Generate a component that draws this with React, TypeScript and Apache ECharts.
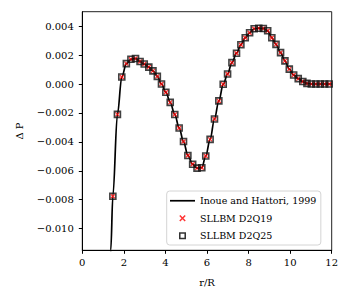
import React, { useEffect, useRef } from "react";
import * as echarts from "echarts";

// Reference curve (Inoue and Hattori, 1999)
const refR = [1.30, 1.37, 1.47, 1.69, 1.90, 2.12, 2.34, 2.56, 2.78, 2.98, 3.20, 3.40, 3.61, 3.81, 4.02, 4.23, 4.45, 4.66, 4.87, 5.08, 5.31, 5.52, 5.75, 5.94, 6.15, 6.36, 6.57, 6.78, 6.99, 7.20, 7.42, 7.63, 7.84, 8.05, 8.27, 8.49, 8.71, 8.92, 9.12, 9.32, 9.54, 9.75, 9.96, 10.17, 10.39, 10.61, 10.81, 11.02, 11.5, 12.0];
const refP = [-0.0141, -0.0115, -0.00776, -0.00210, 0.00048, 0.00141, 0.00171, 0.00176, 0.00156, 0.00138, 0.00117, 0.00091, 0.00053, 0.0, -0.00057, -0.00127, -0.00211, -0.00304, -0.00398, -0.00494, -0.00555, -0.00582, -0.00579, -0.00498, -0.00383, -0.00242, -0.00117, -0.00002, 0.00069, 0.00148, 0.00213, 0.00271, 0.0032, 0.00354, 0.00382, 0.00386, 0.00384, 0.00368, 0.0032, 0.00274, 0.00217, 0.0016, 0.00103, 0.00062, 0.00037, 0.00017, 0.00004, 0.0, 0.0, 0.0];

// SLLBM samples
const lbmR = [1.47, 1.69, 1.90, 2.12, 2.34, 2.56, 2.78, 2.98, 3.20, 3.40, 3.61, 3.81, 4.02, 4.23, 4.45, 4.66, 4.87, 5.08, 5.31, 5.52, 5.75, 5.94, 6.15, 6.36, 6.57, 6.78, 6.99, 7.20, 7.42, 7.63, 7.84, 8.05, 8.27, 8.49, 8.71, 8.92, 9.12, 9.32, 9.54, 9.75, 9.96, 10.17, 10.39, 10.61, 10.81, 11.02, 11.24, 11.45, 11.66, 11.88];
const d2q19P = [-0.00776, -0.00210, 0.00048, 0.00141, 0.00171, 0.00176, 0.00156, 0.00138, 0.00117, 0.00091, 0.00053, 0.0, -0.00057, -0.00127, -0.00211, -0.00304, -0.00398, -0.00494, -0.00555, -0.00582, -0.00579, -0.00498, -0.00383, -0.00242, -0.00117, -0.00002, 0.00069, 0.00148, 0.00213, 0.00271, 0.0032, 0.00354, 0.00382, 0.00386, 0.00384, 0.00368, 0.0032, 0.00274, 0.00217, 0.0016, 0.00103, 0.00062, 0.00037, 0.00017, 0.00004, 0.0, 0.0, 0.0, 0.0, 0.0];
const d2q25P = [-0.00776, -0.00210, 0.00048, 0.00141, 0.00171, 0.00176, 0.00156, 0.00138, 0.00117, 0.00091, 0.00053, 0.0, -0.00057, -0.00127, -0.00211, -0.00304, -0.00398, -0.00494, -0.00555, -0.00582, -0.00579, -0.00498, -0.00383, -0.00242, -0.00117, -0.00002, 0.00069, 0.00148, 0.00213, 0.00271, 0.0032, 0.00354, 0.00382, 0.00386, 0.00384, 0.00368, 0.0032, 0.00274, 0.00217, 0.0016, 0.00103, 0.00062, 0.00037, 0.00017, 0.00004, 0.0, 0.0, 0.0, 0.0, 0.0];

const yTicks = [-0.010, -0.008, -0.006, -0.004, -0.002, 0.0, 0.002, 0.004];
const seriesNames = ["Inoue and Hattori, 1999", "SLLBM D2Q19", "SLLBM D2Q25"];

const FONT = "DejaVu Serif";
const CROSS = "path://M0,0L10,10M10,0L0,10";

export default function App() {
  const ref = useRef<HTMLDivElement>(null);
  useEffect(() => {
    if (!ref.current) return;
    const chart = echarts.init(ref.current, undefined, { renderer: "svg" });
    const zip = (xs: number[], ys: number[]) => xs.map((x, i) => [x, ys[i]]);
    chart.setOption({
      animation: false,
      grid: {
        left: 82.3,
        right: 18.3,
        top: 11.7,
        bottom: 49.7,
        show: true,
        borderColor: "#222",
        borderWidth: 1,
      },
      xAxis: {
        type: "value",
        min: 0,
        max: 12,
        interval: 2,
        name: "r/R",
        nameLocation: "middle",
        nameGap: 27,
        nameTextStyle: { fontFamily: FONT, fontSize: 10, color: "#000" },
        axisLine: { show: true, onZero: false, lineStyle: { color: "#000", width: 1 } },
        axisTick: { show: true, inside: false, length: 3.5, lineStyle: { color: "#000" } },
        axisLabel: { fontFamily: FONT, fontSize: 10, color: "#000", margin: 7.5 },
        splitLine: { show: false },
      },
      yAxis: {
        type: "value",
        min: -0.0115,
        max: 0.005,
        name: "Δ P",
        nameLocation: "middle",
        nameRotate: 90,
        nameGap: 58,
        nameTextStyle: { fontFamily: FONT, fontSize: 10, color: "#000" },
        axisLine: { show: true, onZero: false, lineStyle: { color: "#000", width: 1 } },
        axisTick: { show: true, length: 3.5, customValues: yTicks, lineStyle: { color: "#000" } },
        axisLabel: {
          fontFamily: FONT,
          fontSize: 10,
          color: "#000",
          margin: 8.5,
          customValues: yTicks,
          formatter: (v: number) => v.toFixed(3).replace("-", "\u2212"),
        },
        splitLine: { show: false },
      },
      legend: {
        orient: "vertical",
        left: 166.7,
        top: 191,
        padding: [3.5, 4.5, 3, 3.3],
        itemWidth: 25,
        itemHeight: 7,
        itemGap: 5,
        symbolKeepAspect: true,
        borderColor: "#d4d4d4",
        borderWidth: 1,
        borderRadius: 3,
        backgroundColor: "rgba(255,255,255,0.85)",
        textStyle: { fontFamily: FONT, fontSize: 9.5, color: "#000", lineHeight: 12.5 },
        data: [
          { name: seriesNames[0], icon: "path://M0,0h25v1.7h-25z", itemStyle: { color: "#000", borderWidth: 0 } },
          { name: seriesNames[1], icon: "path://M-1.5,-1.5M0,0L10,10M10,0L0,10M11.5,11.5", itemStyle: { color: "#ff0000", borderColor: "#ff0000", borderWidth: 1.5 } },
          { name: seriesNames[2], icon: "path://M0,0h10v10h-10zM2.2,2.2v5.6h5.6v-5.6z", itemStyle: { color: "#000", borderWidth: 0 } },
        ],
      },
      series: [
        {
          name: seriesNames[0],
          type: "line",
          data: zip(refR, refP),
          symbol: "none",
          smooth: 0.35,
          smoothMonotone: "x",
          lineStyle: { color: "#000", width: 1.7 },
          itemStyle: { color: "#000" },
          clip: true,
          z: 2,
        },
        {
          name: seriesNames[1],
          type: "scatter",
          data: zip(lbmR, d2q19P),
          symbol: CROSS,
          symbolSize: 4,
          itemStyle: { color: "#ff0000", borderColor: "#ff0000", borderWidth: 1.3 },
          z: 3,
        },
        {
          name: seriesNames[2],
          type: "scatter",
          data: zip(lbmR, d2q25P),
          symbol: "rect",
          symbolSize: 6,
          itemStyle: { color: "rgba(0,0,0,0)", borderColor: "#111", borderWidth: 1.6 },
          z: 4,
        },
      ],
    });
    return () => chart.dispose();
  }, []);
  return <div ref={ref} style={{ width: 350, height: 300, position: "absolute", left: 0, top: 0 }} />;
}
